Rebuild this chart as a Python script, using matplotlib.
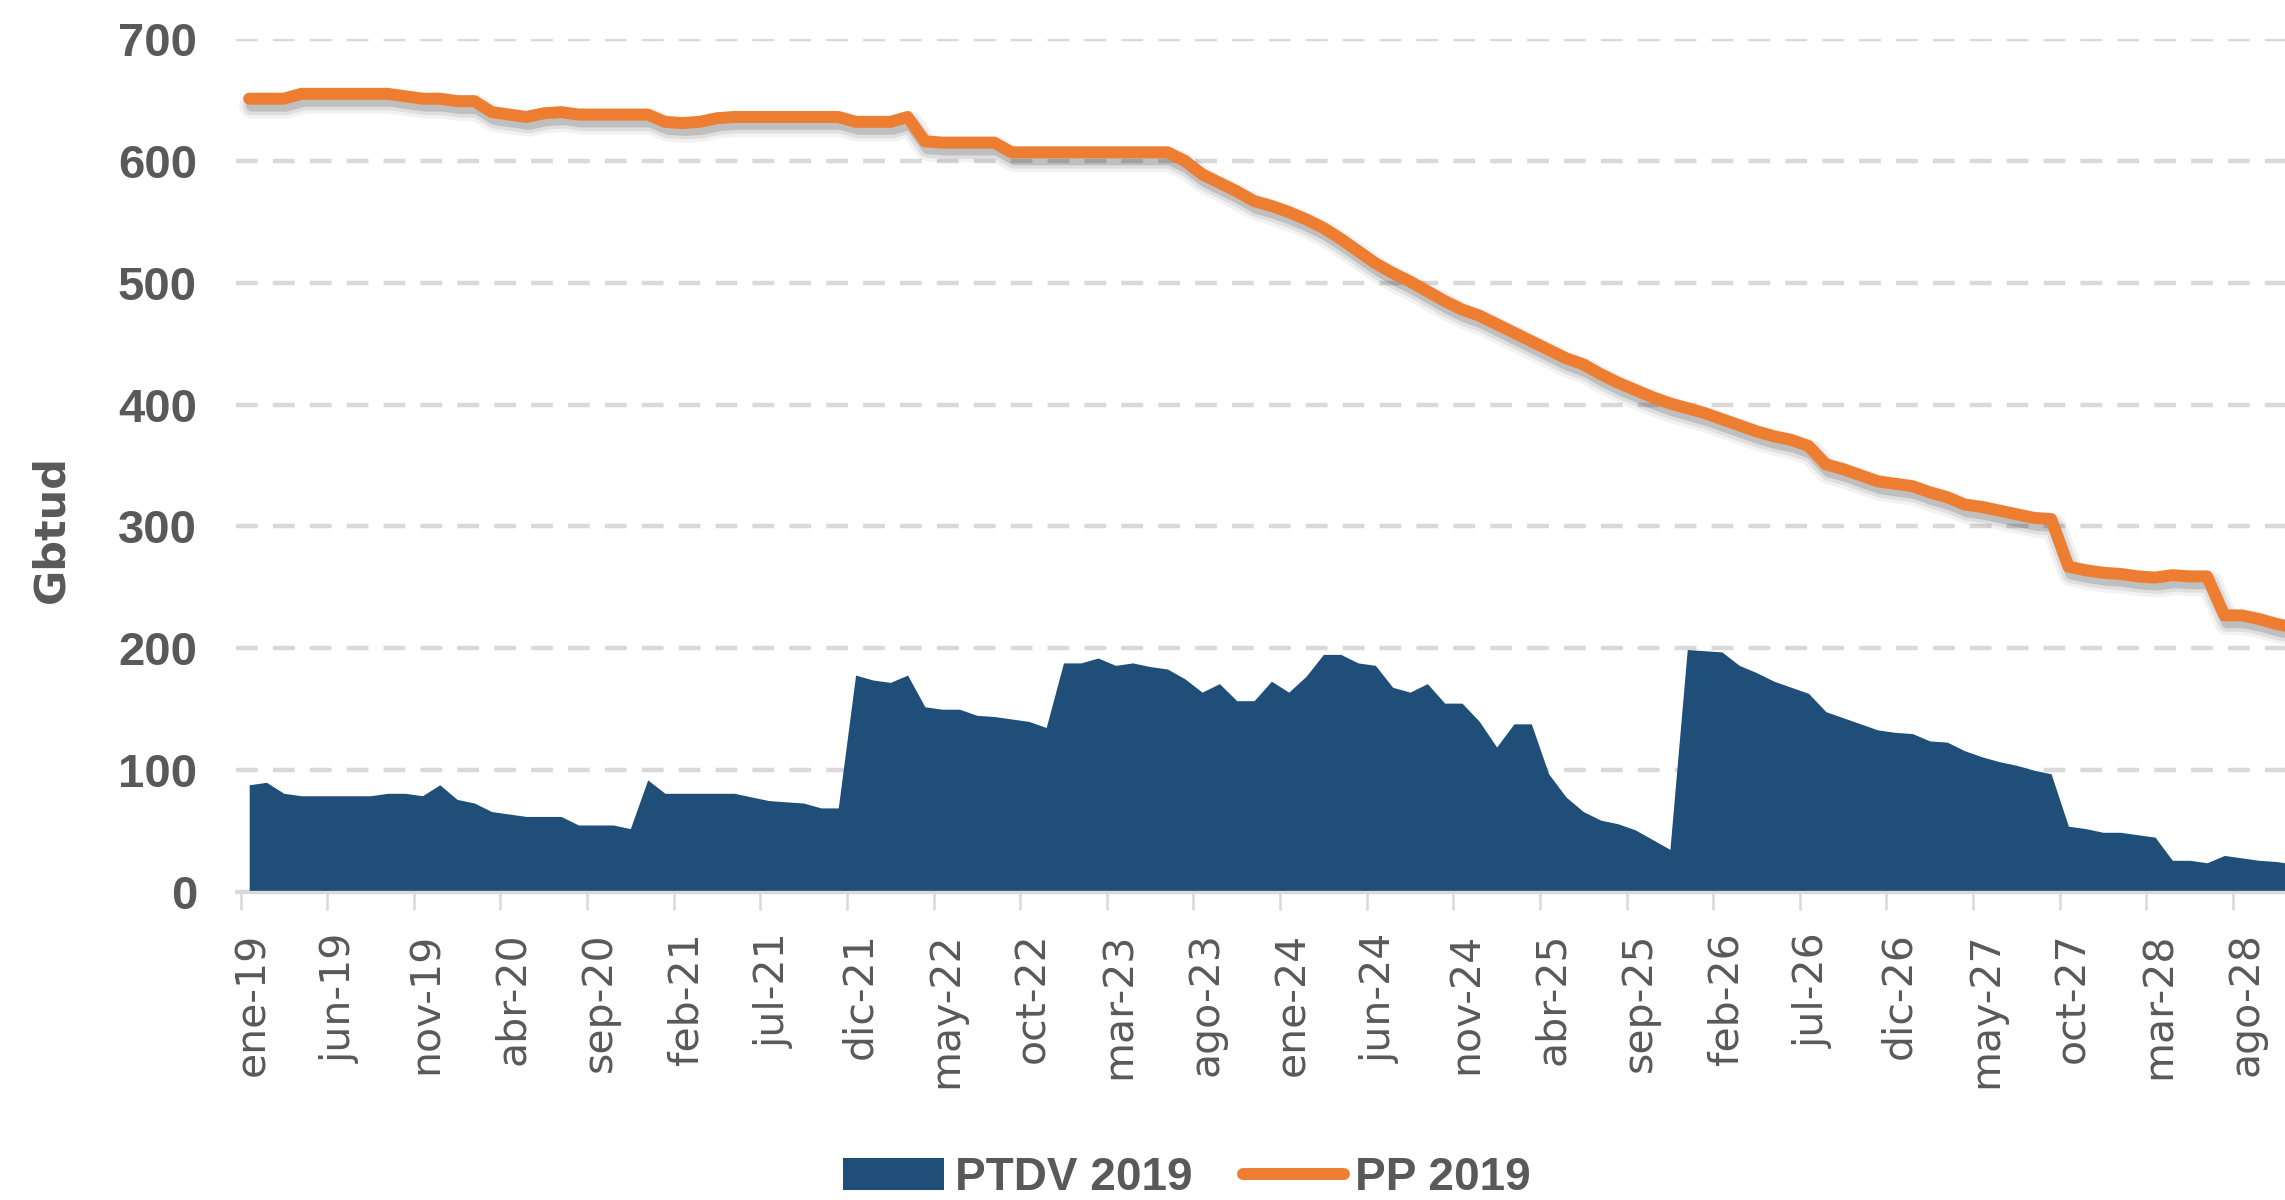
import numpy as np
import matplotlib
matplotlib.use("Agg")
import matplotlib.pyplot as plt
import matplotlib.patheffects as pe
import matplotlib.transforms as mtransforms
from matplotlib.lines import Line2D
from matplotlib.patches import Patch

# ---------------- data ----------------
tick_labels = ["ene-19", "jun-19", "nov-19", "abr-20", "sep-20", "feb-21", "jul-21",
               "dic-21", "may-22", "oct-22", "mar-23", "ago-23", "ene-24", "jun-24",
               "nov-24", "abr-25", "sep-25", "feb-26", "jul-26", "dic-26", "may-27",
               "oct-27", "mar-28", "ago-28"]

ptdv_2019 = [88, 90, 81, 79, 79, 79, 79, 79, 81, 81, 79, 88, 76, 73, 66, 64, 62, 62, 62, 55,
             55, 55, 52, 92, 81, 81, 81, 81, 81, 78, 75, 74, 73, 69, 69, 178, 174, 172, 178, 152,
             150, 150, 145, 144, 142, 140, 135, 188, 188, 192, 186, 188, 185, 183, 175, 164, 171, 157, 157, 173,
             164, 177, 195, 195, 188, 186, 168, 164, 171, 155, 155, 140, 119, 138, 138, 97, 78, 66, 59, 56,
             51, 43, 35, 199, 198, 197, 186, 180, 173, 168, 163, 148, 143, 138, 133, 131, 130, 124, 123, 116,
             111, 107, 104, 100, 97, 54, 52, 49, 49, 47, 45, 26, 26, 24, 30, 28, 26, 25, 23]

pp_2019 = [651, 651, 651, 655, 655, 655, 655, 655, 655, 653, 651, 651, 649, 649, 640, 638, 636, 639, 640, 638,
           638, 638, 638, 638, 632, 631, 632, 635, 636, 636, 636, 636, 636, 636, 636, 632, 632, 632, 636, 616,
           615, 615, 615, 615, 607, 607, 607, 607, 607, 607, 607, 607, 607, 607, 600, 589, 582, 575, 567, 563,
           558, 552, 545, 536, 526, 516, 508, 501, 493, 485, 478, 473, 466, 459, 452, 445, 438, 433, 425, 418,
           412, 406, 401, 397, 393, 388, 383, 378, 374, 371, 366, 351, 347, 342, 337, 335, 333, 328, 324, 318,
           316, 313, 310, 307, 306, 267, 264, 262, 261, 259, 258, 260, 259, 259, 227, 227, 224, 220, 217]

series_names = ["PTDV 2019", "PP 2019"]
y_label = "Gbtud"

# ---------------- styling ----------------
BLUE = "#1F4E79"
ORANGE = "#ED7D31"
GRID = "#D9D9D9"
TXT = "#595959"
NARROW = ["Liberation Sans", "DejaVu Sans"]

fig = plt.figure(figsize=(22.85, 12), dpi=100)
left = 236 / 2285
bottom = 1 - 892 / 1200
top = 1 - 39 / 1200
ax = fig.add_axes([left, bottom, 1.0 - left, top - bottom])

n = len(ptdv_2019)
x = np.arange(n) + 0.5  # data sit between tick marks (Excel date axis)

ax.fill_between(x, 0, ptdv_2019, color=BLUE, lw=0, zorder=2)

lw = 8.6
shadow = [
    pe.SimpleLineShadow(offset=(2, -5), shadow_color="k", alpha=0.05, linewidth=lw + 10),
    pe.SimpleLineShadow(offset=(2, -5), shadow_color="k", alpha=0.08, linewidth=lw + 5),
    pe.SimpleLineShadow(offset=(2, -5), shadow_color="k", alpha=0.14, linewidth=lw),
    pe.Normal(),
]
ax.plot(x, pp_2019, color=ORANGE, lw=lw, solid_joinstyle="round", solid_capstyle="round",
        zorder=3, path_effects=shadow)

ax.set_xlim(-0.26, 118.0)
ax.set_ylim(0, 700)

ax.set_yticks(np.arange(0, 701, 100))
ax.yaxis.grid(True, color=GRID, linewidth=3.2, linestyle=(0, (4.9, 3.4)), zorder=1)
ax.set_axisbelow(True)

for s in ["top", "right", "left"]:
    ax.spines[s].set_visible(False)
ax.spines["bottom"].set_color(GRID)
ax.spines["bottom"].set_linewidth(2.4)
ax.spines["bottom"].set_zorder(4)

ax.tick_params(axis="y", length=0, pad=28, labelcolor=TXT)
for lab in ax.get_yticklabels():
    lab.set_fontfamily(NARROW)
    lab.set_fontsize(34)
    lab.set_fontweight("bold")

tick_pos = np.arange(0, 5 * len(tick_labels), 5)
ax.set_xticks(tick_pos)
ax.set_xticklabels(tick_labels, rotation=90, fontsize=29.5, color=TXT,
                   fontfamily="DejaVu Sans")
ax.tick_params(axis="x", length=13, width=1.8, color=GRID, pad=16)
offset = mtransforms.ScaledTranslation(13 / 100, 0, fig.dpi_scale_trans)
for lab in ax.get_xticklabels():
    lab.set_transform(lab.get_transform() + offset)

fig.text(51 / 2285, 1 - 529 / 1200, y_label, rotation=90, ha="center", va="center",
         fontsize=31, fontweight="bold", color=TXT, family="DejaVu Sans")

handles = [Patch(facecolor=BLUE, edgecolor="none"),
           Line2D([0], [0], color=ORANGE, lw=lw, solid_capstyle="round")]
leg = fig.legend(handles, series_names, loc="center", bbox_to_anchor=(1187 / 2285, 1 - 1178 / 1200),
                 ncol=2, frameon=False, handlelength=2.2, handletextpad=0.25, columnspacing=1.1,
                 prop={"family": NARROW, "size": 33, "weight": "bold"})
for t in leg.get_texts():
    t.set_color(TXT)

fig.savefig("out.png", dpi=100)
